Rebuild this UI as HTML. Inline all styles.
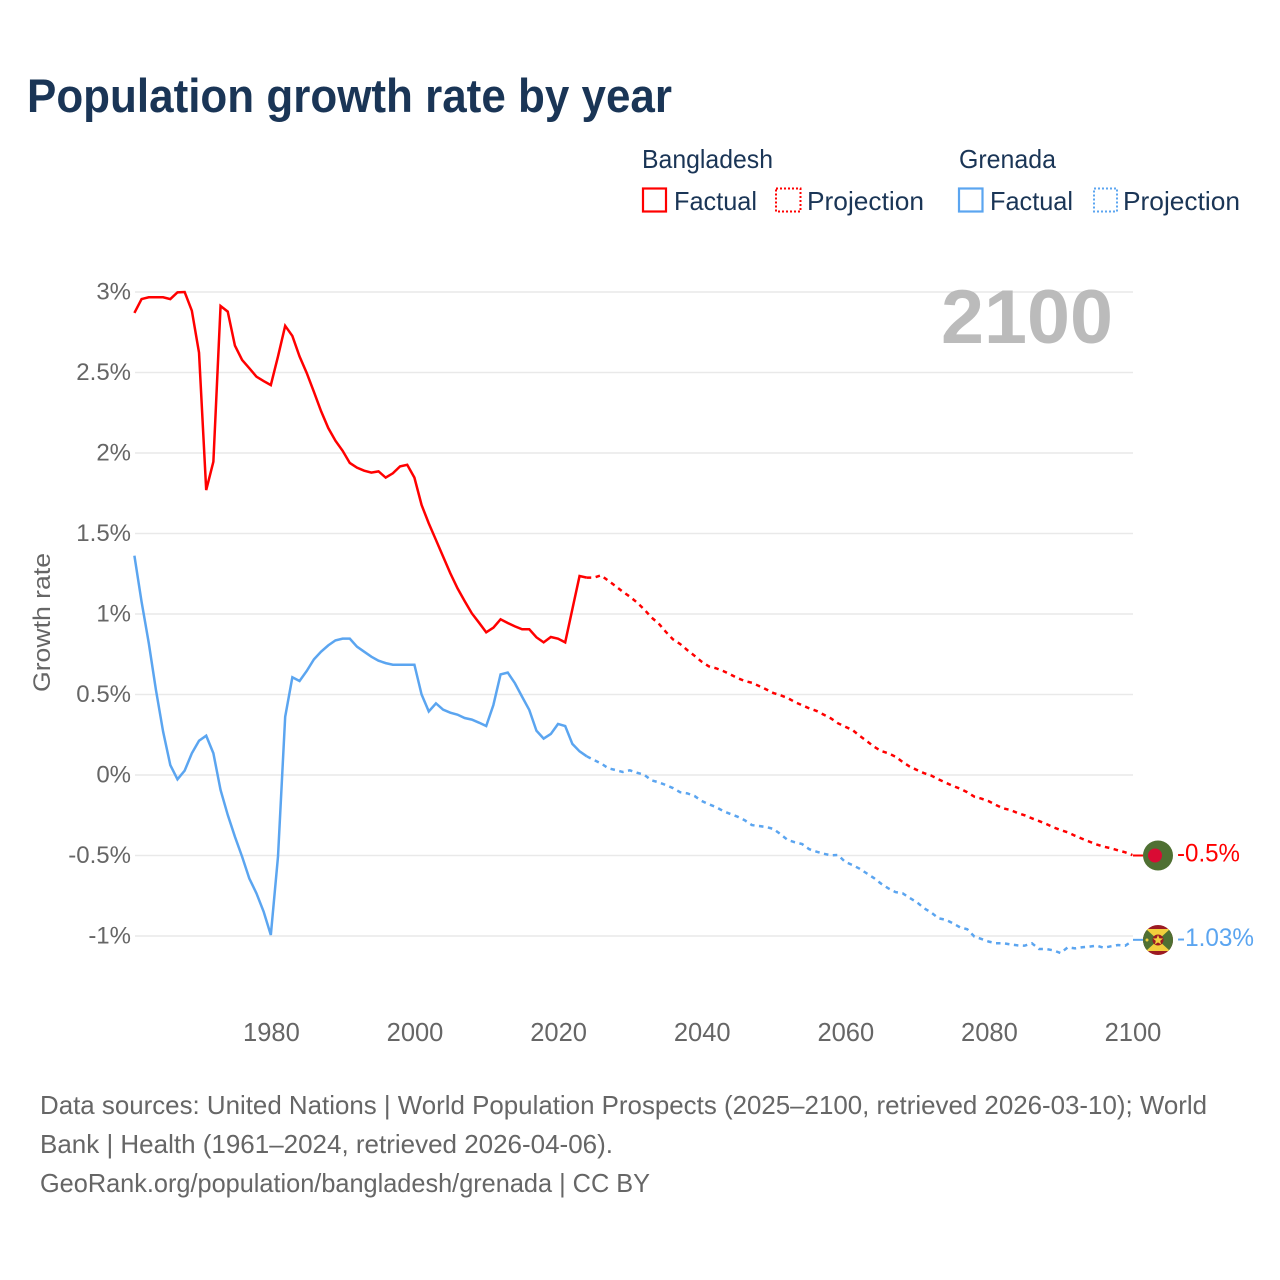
<!DOCTYPE html>
<html lang="en">
<head>
<meta charset="utf-8">
<title>Population growth rate by year</title>
<style>
html,body{margin:0;padding:0;background:#fff;}
svg{display:block;font-family:"Liberation Sans",sans-serif;}
</style>
</head>
<body>
<svg id="chart" xmlns="http://www.w3.org/2000/svg" width="1280" height="1280" viewBox="0 0 1280 1280">
  <rect x="0" y="0" width="1280" height="1280" fill="#ffffff"/>
  <text x="27" y="112" font-size="47" font-weight="700" fill="#1a3556" textLength="645" lengthAdjust="spacingAndGlyphs">Population growth rate by year</text>

  <g font-size="26" fill="#1a3556">
    <text x="642" y="168" textLength="131" lengthAdjust="spacingAndGlyphs">Bangladesh</text>
    <rect x="643" y="188.500" width="23" height="23" fill="none" stroke="#ff0000" stroke-width="2.2"/>
    <text x="674" y="210" textLength="83" lengthAdjust="spacingAndGlyphs">Factual</text>
    <rect x="776" y="188.500" width="24.500" height="23" fill="none" stroke="#ff0000" stroke-width="2" stroke-dasharray="2 2"/>
    <text x="807" y="210" textLength="117" lengthAdjust="spacingAndGlyphs">Projection</text>
    <text x="959" y="168" textLength="97" lengthAdjust="spacingAndGlyphs">Grenada</text>
    <rect x="959" y="188.500" width="23.500" height="23" fill="none" stroke="#5ba5f0" stroke-width="2.2"/>
    <text x="990" y="210" textLength="83" lengthAdjust="spacingAndGlyphs">Factual</text>
    <rect x="1094" y="188.500" width="23" height="23" fill="none" stroke="#5ba5f0" stroke-width="2" stroke-dasharray="2 2"/>
    <text x="1123" y="210" textLength="117" lengthAdjust="spacingAndGlyphs">Projection</text>
  </g>

  <g id="grid"></g>
  <g id="yticks" font-size="24" fill="#666666" text-anchor="end"></g>
  <g id="xticks" font-size="25.500" fill="#666666" text-anchor="middle"></g>

  <text transform="translate(50,622.500) rotate(-90)" font-size="24" fill="#666666" text-anchor="middle" textLength="139" lengthAdjust="spacingAndGlyphs">Growth rate</text>
  <text x="941" y="343" font-size="76" font-weight="700" fill="#bbbbbb" textLength="172" lengthAdjust="spacingAndGlyphs">2100</text>

  <g id="series"></g>

  <clipPath id="flag-clip-bd"><circle id="clip-bd" cx="1158" cy="855" r="15"/></clipPath>
  <clipPath id="flag-clip-gd"><circle id="clip-gd" cx="1158" cy="940" r="15"/></clipPath>

  <g id="flag-bd" clip-path="url(#flag-clip-bd)">
    <rect x="1143" y="840" width="30" height="30" fill="#4f7033"/>
    <circle cx="1155" cy="855" r="7" fill="#d90b34"/>
  </g>
  <g id="flag-gd" clip-path="url(#flag-clip-gd)">
    <rect x="1143" y="925" width="30" height="30" fill="#9c1a22"/>
    <rect x="1143" y="929" width="30" height="22" fill="#4f7033"/>
    <polygon points="1146,929 1170,929 1158,940" fill="#f2cf3d"/>
    <polygon points="1146,951 1170,951 1158,940" fill="#f2cf3d"/>
    <circle cx="1158" cy="940" r="5.500" fill="#9c1a22"/>
    <polygon points="1158,935 1159.400,938.300 1163,938.500 1160.200,940.800 1161.100,944.300 1158,942.400 1154.900,944.300 1155.800,940.800 1153,938.500 1156.600,938.300" fill="#f2cf3d"/>
    <circle cx="1147" cy="940" r="1.500" fill="#f2cf3d"/>
  </g>

  <text id="end-label-bd" x="1177" y="861" font-size="25" fill="#ff0000" textLength="63" lengthAdjust="spacingAndGlyphs"></text>
  <text id="end-label-gd" x="1177" y="946" font-size="25" fill="#5ba5f0" textLength="77" lengthAdjust="spacingAndGlyphs"></text>

  <g font-size="26" fill="#666666">
    <text x="40" y="1114" textLength="1167" lengthAdjust="spacingAndGlyphs">Data sources: United Nations | World Population Prospects (2025–2100, retrieved 2026-03-10); World</text>
    <text x="40" y="1153" textLength="573" lengthAdjust="spacingAndGlyphs">Bank | Health (1961–2024, retrieved 2026-04-06).</text>
    <text x="40" y="1192" textLength="610" lengthAdjust="spacingAndGlyphs">GeoRank.org/population/bangladesh/grenada | CC BY</text>
  </g>
</svg>

<script>
var factualStartYear = 1961;
var projectionStartYear = 2024;
var yTickValues = [3, 2.5, 2, 1.5, 1, 0.5, 0, -0.5, -1];
var yTickLabels = ['3%', '2.5%', '2%', '1.5%', '1%', '0.5%', '0%', '-0.5%', '-1%'];
var xTickValues = [1980, 2000, 2020, 2040, 2060, 2080, 2100];
var xTickLabels = ['1980', '2000', '2020', '2040', '2060', '2080', '2100'];
var bangladeshFactual = [2.87,2.956,2.967,2.967,2.967,2.956,2.998,3.0,2.884,2.623,1.77,1.946,2.913,2.878,2.667,2.578,2.527,2.474,2.447,2.422,2.6,2.79,2.727,2.6,2.497,2.38,2.26,2.155,2.076,2.014,1.938,1.909,1.89,1.878,1.886,1.847,1.874,1.917,1.927,1.847,1.677,1.563,1.46,1.356,1.253,1.16,1.08,1.004,0.946,0.886,0.915,0.967,0.944,0.923,0.905,0.905,0.855,0.824,0.857,0.847,0.824,1.03,1.236,1.226];
var bangladeshProjection = [1.226,1.226,1.24,1.207,1.174,1.139,1.108,1.072,1.029,0.979,0.942,0.89,0.843,0.814,0.776,0.741,0.704,0.675,0.663,0.646,0.625,0.602,0.584,0.573,0.553,0.532,0.509,0.495,0.478,0.453,0.433,0.414,0.398,0.375,0.352,0.321,0.3,0.28,0.244,0.211,0.176,0.149,0.135,0.114,0.081,0.052,0.031,0.011,-0.004,-0.027,-0.048,-0.068,-0.085,-0.107,-0.135,-0.147,-0.163,-0.186,-0.207,-0.217,-0.236,-0.25,-0.269,-0.286,-0.304,-0.325,-0.342,-0.356,-0.377,-0.396,-0.414,-0.431,-0.445,-0.455,-0.468,-0.48,-0.497];
var grenadaFactual = [1.362,1.076,0.82,0.528,0.269,0.062,-0.027,0.027,0.135,0.213,0.244,0.135,-0.093,-0.248,-0.383,-0.507,-0.642,-0.735,-0.849,-0.994,-0.507,0.362,0.607,0.584,0.646,0.718,0.766,0.805,0.836,0.847,0.847,0.797,0.766,0.735,0.71,0.695,0.685,0.685,0.685,0.685,0.5,0.395,0.445,0.406,0.387,0.375,0.354,0.344,0.325,0.304,0.435,0.625,0.636,0.57,0.486,0.404,0.275,0.226,0.255,0.317,0.304,0.193,0.147,0.116];
var grenadaProjection = [0.116,0.093,0.072,0.042,0.031,0.019,0.029,0.014,0.002,-0.033,-0.045,-0.062,-0.081,-0.107,-0.114,-0.13,-0.161,-0.182,-0.199,-0.224,-0.242,-0.259,-0.281,-0.311,-0.317,-0.323,-0.335,-0.368,-0.404,-0.418,-0.429,-0.461,-0.476,-0.489,-0.499,-0.497,-0.54,-0.559,-0.582,-0.611,-0.64,-0.675,-0.704,-0.727,-0.735,-0.764,-0.791,-0.828,-0.855,-0.89,-0.899,-0.921,-0.946,-0.958,-1.004,-1.019,-1.035,-1.045,-1.045,-1.052,-1.058,-1.06,-1.045,-1.081,-1.081,-1.089,-1.106,-1.07,-1.077,-1.07,-1.066,-1.06,-1.073,-1.064,-1.056,-1.06,-1.031];
var endValues = [-0.5, -1.03];
var endLabels = ['-0.5%', '-1.03%'];

var SVGNS = 'http://www.w3.org/2000/svg';
function xScale(year) { return 135 + (year - 1961) * (1133 - 135) / (2100 - 1961); }
function yScale(v) { return 775 - v * 161; }
function make(tag, parent) {
  var el = document.createElementNS(SVGNS, tag);
  parent.appendChild(el);
  return el;
}
function linePath(values, startYear) {
  var d = '';
  for (var i = 0; i < values.length; i++) {
    d += (i ? 'L' : 'M') + (xScale(startYear + i) - 0.6).toFixed(2) + ' ' + yScale(values[i]).toFixed(2);
  }
  return d;
}

var gridGroup = document.getElementById('grid');
var yTickGroup = document.getElementById('yticks');
yTickValues.forEach(function (v, i) {
  var line = make('line', gridGroup);
  
  
  line.setAttribute('x1', xScale(1961));
  line.setAttribute('x2', xScale(2100));
  line.setAttribute('y1', yScale(v));
  line.setAttribute('y2', yScale(v));
  line.setAttribute('stroke', '#e9e9e9');
  line.setAttribute('stroke-width', '1.5');
  var label = make('text', yTickGroup);
  
  
  label.setAttribute('x', 131);
  label.setAttribute('y', yScale(v) + 7.5);
  label.textContent = yTickLabels[i];
});

var xTickGroup = document.getElementById('xticks');
xTickValues.forEach(function (year, i) {
  var label = make('text', xTickGroup);
  
  
  label.setAttribute('x', xScale(year));
  label.setAttribute('y', 1041);
  label.textContent = xTickLabels[i];
});

var seriesGroup = document.getElementById('series');

var bdFactualLine = make('path', seriesGroup);


bdFactualLine.setAttribute('d', linePath(bangladeshFactual, factualStartYear));
bdFactualLine.setAttribute('fill', 'none');
bdFactualLine.setAttribute('stroke', '#ff0000');
bdFactualLine.setAttribute('stroke-width', '2.5');

var bdProjectionLine = make('path', seriesGroup);


bdProjectionLine.setAttribute('d', linePath(bangladeshProjection, projectionStartYear));
bdProjectionLine.setAttribute('fill', 'none');
bdProjectionLine.setAttribute('stroke', '#ff0000');
bdProjectionLine.setAttribute('stroke-width', '2.5');
bdProjectionLine.setAttribute('stroke-dasharray', '4.500 4.500');

var gdFactualLine = make('path', seriesGroup);


gdFactualLine.setAttribute('d', linePath(grenadaFactual, factualStartYear));
gdFactualLine.setAttribute('fill', 'none');
gdFactualLine.setAttribute('stroke', '#5ba5f0');
gdFactualLine.setAttribute('stroke-width', '2.5');

var gdProjectionLine = make('path', seriesGroup);


gdProjectionLine.setAttribute('d', linePath(grenadaProjection, projectionStartYear));
gdProjectionLine.setAttribute('fill', 'none');
gdProjectionLine.setAttribute('stroke', '#5ba5f0');
gdProjectionLine.setAttribute('stroke-width', '2.5');
gdProjectionLine.setAttribute('stroke-dasharray', '4.500 4.500');

var bdConnector = make('line', seriesGroup);


bdConnector.setAttribute('x1', xScale(2100));
bdConnector.setAttribute('x2', 1143);
bdConnector.setAttribute('y1', yScale(endValues[0]));
bdConnector.setAttribute('y2', yScale(endValues[0]));
bdConnector.setAttribute('stroke', '#ff0000');
bdConnector.setAttribute('stroke-width', '2');

var gdConnector = make('line', seriesGroup);


gdConnector.setAttribute('x1', xScale(2100));
gdConnector.setAttribute('x2', 1143);
gdConnector.setAttribute('y1', yScale(endValues[1]) - 1);
gdConnector.setAttribute('y2', yScale(endValues[1]) - 1);
gdConnector.setAttribute('stroke', '#5ba5f0');
gdConnector.setAttribute('stroke-width', '2');

document.getElementById('end-label-bd').textContent = endLabels[0];
document.getElementById('end-label-gd').textContent = endLabels[1];
document.getElementById('end-label-bd').setAttribute('y', yScale(endValues[0]) + 6);
document.getElementById('end-label-gd').setAttribute('y', yScale(endValues[1]) + 5);
document.getElementById('flag-bd').setAttribute('transform', 'translate(0,' + (yScale(endValues[0]) - 855) + ')');
document.getElementById('flag-gd').setAttribute('transform', 'translate(0,' + (yScale(endValues[1]) - 940.8) + ')');
</script>
</body>
</html>
